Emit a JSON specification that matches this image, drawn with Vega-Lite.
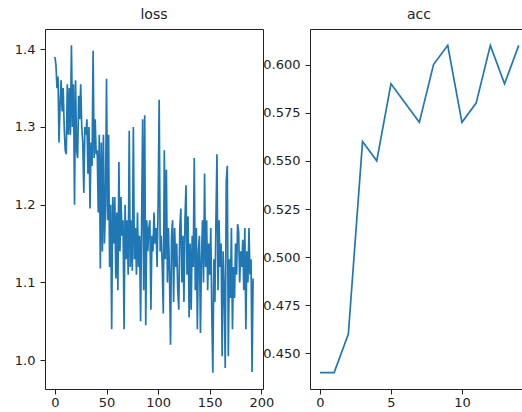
{
  "$schema": "https://vega.github.io/schema/vega-lite/v6.json",
  "padding": {"left": 13, "top": 7, "right": 0, "bottom": 0},
  "autosize": {"type": "pad"},
  "background": "white",
  "bounds": "flush",
  "spacing": 47,
  "config": {
    "font": "DejaVu Sans",
    "view": {"stroke": "#222", "strokeWidth": 1},
    "axis": {"grid": false, "domain": false, "tickColor": "#222", "tickSize": 5, "labelPadding": 5, "labelFontSize": 13, "labelColor": "#222", "title": null, "labelFont": "DejaVu Sans", "domainColor": "#222"},
    "axisX": {"labelPadding": 2},
    "title": {"fontSize": 14, "fontWeight": "normal", "color": "#222", "offset": 7, "font": "DejaVu Sans"},
    "line": {"color": "#1f77b4", "strokeWidth": 1.7}
  },
  "datasets": {
    "loss": [
      {"epoch":0,"loss":1.39},{"epoch":1,"loss":1.38},{"epoch":2,"loss":1.35},{"epoch":3,"loss":1.365},{"epoch":4,"loss":1.28},
      {"epoch":5,"loss":1.33},{"epoch":6,"loss":1.36},{"epoch":7,"loss":1.32},{"epoch":8,"loss":1.35},{"epoch":9,"loss":1.30},
      {"epoch":10,"loss":1.27},{"epoch":11,"loss":1.265},{"epoch":12,"loss":1.355},{"epoch":13,"loss":1.29},{"epoch":14,"loss":1.35},
      {"epoch":15,"loss":1.29},{"epoch":16,"loss":1.405},{"epoch":17,"loss":1.30},{"epoch":18,"loss":1.355},{"epoch":19,"loss":1.20},
      {"epoch":20,"loss":1.36},{"epoch":21,"loss":1.27},{"epoch":22,"loss":1.26},{"epoch":23,"loss":1.34},{"epoch":24,"loss":1.31},
      {"epoch":25,"loss":1.355},{"epoch":26,"loss":1.30},{"epoch":27,"loss":1.28},{"epoch":28,"loss":1.215},{"epoch":29,"loss":1.30},
      {"epoch":30,"loss":1.29},{"epoch":31,"loss":1.31},{"epoch":32,"loss":1.24},{"epoch":33,"loss":1.30},{"epoch":34,"loss":1.195},
      {"epoch":35,"loss":1.28},{"epoch":36,"loss":1.25},{"epoch":37,"loss":1.398},{"epoch":38,"loss":1.26},{"epoch":39,"loss":1.31},
      {"epoch":40,"loss":1.265},{"epoch":41,"loss":1.27},{"epoch":42,"loss":1.19},{"epoch":43,"loss":1.29},{"epoch":44,"loss":1.118},
      {"epoch":45,"loss":1.28},{"epoch":46,"loss":1.14},{"epoch":47,"loss":1.29},{"epoch":48,"loss":1.15},{"epoch":49,"loss":1.20},
      {"epoch":50,"loss":1.362},{"epoch":51,"loss":1.18},{"epoch":52,"loss":1.29},{"epoch":53,"loss":1.12},{"epoch":54,"loss":1.20},
      {"epoch":55,"loss":1.04},{"epoch":56,"loss":1.21},{"epoch":57,"loss":1.15},{"epoch":58,"loss":1.21},{"epoch":59,"loss":1.105},
      {"epoch":60,"loss":1.19},{"epoch":61,"loss":1.09},{"epoch":62,"loss":1.255},{"epoch":63,"loss":1.14},{"epoch":64,"loss":1.21},
      {"epoch":65,"loss":1.16},{"epoch":66,"loss":1.18},{"epoch":67,"loss":1.04},{"epoch":68,"loss":1.20},{"epoch":69,"loss":1.13},
      {"epoch":70,"loss":1.18},{"epoch":71,"loss":1.11},{"epoch":72,"loss":1.295},{"epoch":73,"loss":1.12},{"epoch":74,"loss":1.18},
      {"epoch":75,"loss":1.115},{"epoch":76,"loss":1.30},{"epoch":77,"loss":1.13},{"epoch":78,"loss":1.17},{"epoch":79,"loss":1.11},
      {"epoch":80,"loss":1.19},{"epoch":81,"loss":1.12},{"epoch":82,"loss":1.16},{"epoch":83,"loss":1.05},{"epoch":84,"loss":1.18},
      {"epoch":85,"loss":1.31},{"epoch":86,"loss":1.09},{"epoch":87,"loss":1.315},{"epoch":88,"loss":1.045},{"epoch":89,"loss":1.18},
      {"epoch":90,"loss":1.14},{"epoch":91,"loss":1.17},{"epoch":92,"loss":1.18},{"epoch":93,"loss":1.065},{"epoch":94,"loss":1.16},
      {"epoch":95,"loss":1.14},{"epoch":96,"loss":1.19},{"epoch":97,"loss":1.15},{"epoch":98,"loss":1.17},{"epoch":99,"loss":1.12},
      {"epoch":100,"loss":1.20},{"epoch":101,"loss":1.335},{"epoch":102,"loss":1.14},{"epoch":103,"loss":1.16},{"epoch":104,"loss":1.12},
      {"epoch":105,"loss":1.06},{"epoch":106,"loss":1.27},{"epoch":107,"loss":1.13},{"epoch":108,"loss":1.245},{"epoch":109,"loss":1.10},
      {"epoch":110,"loss":1.17},{"epoch":111,"loss":1.11},{"epoch":112,"loss":1.02},{"epoch":113,"loss":1.16},{"epoch":114,"loss":1.18},
      {"epoch":115,"loss":1.075},{"epoch":116,"loss":1.17},{"epoch":117,"loss":1.12},{"epoch":118,"loss":1.15},{"epoch":119,"loss":1.09},
      {"epoch":120,"loss":1.065},{"epoch":121,"loss":1.17},{"epoch":122,"loss":1.195},{"epoch":123,"loss":1.10},{"epoch":124,"loss":1.16},
      {"epoch":125,"loss":1.075},{"epoch":126,"loss":1.18},{"epoch":127,"loss":1.225},{"epoch":128,"loss":1.11},{"epoch":129,"loss":1.185},
      {"epoch":130,"loss":1.055},{"epoch":131,"loss":1.15},{"epoch":132,"loss":1.065},{"epoch":133,"loss":1.16},{"epoch":134,"loss":1.12},
      {"epoch":135,"loss":1.26},{"epoch":136,"loss":1.09},{"epoch":137,"loss":1.17},{"epoch":138,"loss":1.04},{"epoch":139,"loss":1.14},
      {"epoch":140,"loss":1.16},{"epoch":141,"loss":1.035},{"epoch":142,"loss":1.13},{"epoch":143,"loss":1.18},{"epoch":144,"loss":1.10},
      {"epoch":145,"loss":1.24},{"epoch":146,"loss":1.12},{"epoch":147,"loss":1.18},{"epoch":148,"loss":1.09},{"epoch":149,"loss":1.15},
      {"epoch":150,"loss":1.11},{"epoch":151,"loss":1.17},{"epoch":152,"loss":1.06},{"epoch":153,"loss":0.984},{"epoch":154,"loss":1.13},
      {"epoch":155,"loss":1.075},{"epoch":156,"loss":1.18},{"epoch":157,"loss":1.265},{"epoch":158,"loss":1.09},{"epoch":159,"loss":1.18},
      {"epoch":160,"loss":1.12},{"epoch":161,"loss":1.15},{"epoch":162,"loss":1.005},{"epoch":163,"loss":1.14},{"epoch":164,"loss":1.09},
      {"epoch":165,"loss":0.99},{"epoch":166,"loss":1.23},{"epoch":167,"loss":1.25},{"epoch":168,"loss":1.005},{"epoch":169,"loss":1.13},
      {"epoch":170,"loss":1.08},{"epoch":171,"loss":1.17},{"epoch":172,"loss":1.04},{"epoch":173,"loss":1.12},{"epoch":174,"loss":1.08},
      {"epoch":175,"loss":1.15},{"epoch":176,"loss":1.11},{"epoch":177,"loss":1.175},{"epoch":178,"loss":1.165},{"epoch":179,"loss":1.10},
      {"epoch":180,"loss":1.14},{"epoch":181,"loss":1.12},{"epoch":182,"loss":1.155},{"epoch":183,"loss":1.09},{"epoch":184,"loss":1.17},
      {"epoch":185,"loss":1.04},{"epoch":186,"loss":1.14},{"epoch":187,"loss":1.10},{"epoch":188,"loss":1.17},{"epoch":189,"loss":1.11},
      {"epoch":190,"loss":1.13},{"epoch":191,"loss":0.985},{"epoch":192,"loss":1.105}
    ],
    "acc": [
      {"epoch":0,"acc":0.44},{"epoch":1,"acc":0.44},{"epoch":2,"acc":0.46},{"epoch":3,"acc":0.56},{"epoch":4,"acc":0.55},
      {"epoch":5,"acc":0.59},{"epoch":6,"acc":0.58},{"epoch":7,"acc":0.57},{"epoch":8,"acc":0.60},{"epoch":9,"acc":0.61},
      {"epoch":10,"acc":0.57},{"epoch":11,"acc":0.58},{"epoch":12,"acc":0.61},{"epoch":13,"acc":0.59},{"epoch":14,"acc":0.61}
    ]
  },
  "hconcat": [
    {
      "title": "loss",
      "width": 218,
      "height": 360,
      "data": {"name": "loss"},
      "mark": {"type": "line", "clip": true},
      "encoding": {
        "x": {"field": "epoch", "type": "quantitative", "scale": {"domain": [-9.6, 201.6], "nice": false, "zero": false}, "axis": {"values": [0, 50, 100, 150, 200]}},
        "y": {"field": "loss", "type": "quantitative", "scale": {"domain": [0.963, 1.426], "nice": false, "zero": false}, "axis": {"values": [1.0, 1.1, 1.2, 1.3, 1.4], "format": ".1f"}}
      }
    },
    {
      "title": {"text": "acc", "dx": 3},
      "width": 212,
      "height": 360,
      "view": {"stroke": null},
      "data": {"name": "acc"},
      "layer": [
        {
          "mark": {"type": "line", "clip": true},
          "encoding": {
            "x": {"field": "epoch", "type": "quantitative", "scale": {"domain": [-0.7, 14.23], "nice": false, "zero": false}, "axis": {"values": [0, 5, 10], "domain": true}},
            "y": {"field": "acc", "type": "quantitative", "scale": {"domain": [0.4315, 0.6185], "nice": false, "zero": false}, "axis": {"values": [0.45, 0.475, 0.5, 0.525, 0.55, 0.575, 0.6], "format": ".3f", "domain": true}}
          }
        },
        {
          "mark": {"type": "line", "opacity": 0},
          "encoding": {
            "x": {"field": "epoch", "type": "quantitative", "scale": {"domain": [-0.7, 14.23], "nice": false, "zero": false}, "axis": {"orient": "top", "labels": false, "ticks": false, "domain": true}},
            "y": {"field": "acc", "type": "quantitative", "scale": {"domain": [0.4315, 0.6185], "nice": false, "zero": false}, "axis": {"values": [0.45, 0.475, 0.5, 0.525, 0.55, 0.575, 0.6], "format": ".3f", "domain": true}}
          }
        }
      ],
      "resolve": {"axis": {"x": "independent"}}
    }
  ]
}
